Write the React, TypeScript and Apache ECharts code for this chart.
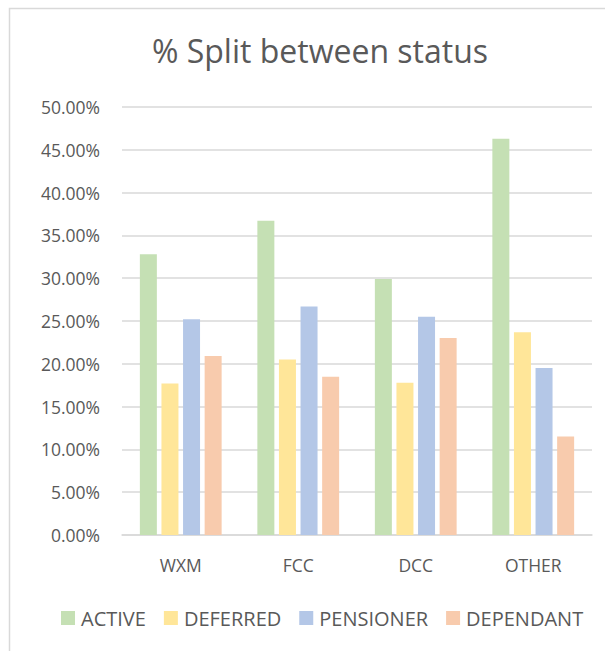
import React, { useEffect, useRef } from "react";
import * as echarts from "echarts";

const categories = ["WXM", "FCC", "DCC", "OTHER"];
const seriesNames = ["ACTIVE", "DEFERRED", "PENSIONER", "DEPENDANT"];
const active = [32.8, 36.7, 29.9, 46.3];
const deferred = [17.7, 20.5, 17.8, 23.7];
const pensioner = [25.2, 26.7, 25.5, 19.5];
const dependant = [20.9, 18.5, 23.0, 11.5];
const colors = ["#C5E0B4", "#FFE699", "#B4C7E7", "#F8CBAD"];

export default function App() {
  const ref = useRef<HTMLDivElement>(null);
  useEffect(() => {
    if (!ref.current) return;
    const chart = echarts.init(ref.current, null, { renderer: "svg" });
    const values = [active, deferred, pensioner, dependant];
    const font = "'Open Sans', 'Noto Sans', sans-serif";
    chart.setOption({
      animation: false,
      backgroundColor: "#ffffff",
      title: {
        text: "% Split between status",
        left: 315,
        textAlign: "center",
        top: 29,
        textStyle: { fontFamily: font, fontSize: 32, fontWeight: "normal", color: "#595959" },
      },
      graphic: [
        {
          type: "rect",
          shape: { x: 9.5, y: 8.5, width: 700, height: 700 },
          style: { fill: "none", stroke: "#d9d9d9", lineWidth: 1.5 },
          silent: true,
        },
      ],
      legend: {
        top: 603,
        left: 56,
        itemWidth: 14,
        itemHeight: 14,
        itemGap: 18,
        icon: "rect",
        textStyle: { fontFamily: font, fontSize: 20, color: "#595959", padding: [0, 0, 0, 1] },
        data: seriesNames,
      },
      grid: { left: 122, right: 13, top: 107, bottom: 116 },
      xAxis: {
        type: "category",
        data: categories,
        axisLine: { lineStyle: { color: "#d9d9d9", width: 1.5 } },
        axisTick: { show: false },
        axisLabel: { fontFamily: font, fontSize: 17.5, color: "#595959", margin: 21 },
      },
      yAxis: {
        type: "value",
        min: 0,
        max: 50,
        interval: 5,
        axisLine: { show: false },
        axisTick: { show: false },
        splitLine: { lineStyle: { color: "#d9d9d9", width: 1.5 } },
        axisLabel: {
          fontFamily: font,
          fontSize: 17.5,
          color: "#595959",
          margin: 22,
          formatter: (v: number) => v.toFixed(2) + "%",
        },
      },
      series: seriesNames.map((name, i) => ({
        name,
        type: "bar",
        data: values[i],
        barWidth: 17,
        barGap: "27%",
        itemStyle: { color: colors[i] },
      })),
    });
    return () => chart.dispose();
  }, []);
  return (
    <div
      ref={ref}
      style={{ position: "fixed", left: 0, top: 0, width: 605, height: 651 }}
    />
  );
}
